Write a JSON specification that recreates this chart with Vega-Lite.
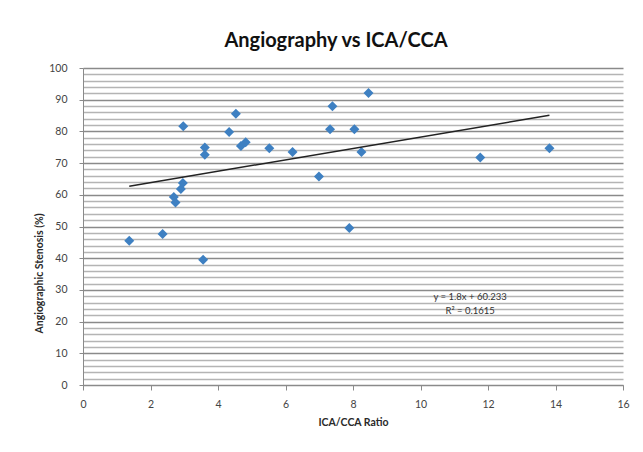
{
  "$schema": "https://vega.github.io/schema/vega-lite/v6.json",
  "width": 540,
  "height": 317,
  "autosize": {"type": "none"},
  "padding": {"left": 83, "top": 68, "right": 20, "bottom": 67},
  "background": "white",
  "config": {"font": "Lato", "view": {"stroke": null}},
  "title": {
    "text": "Angiography vs ICA/CCA",
    "fontSize": 20,
    "font": "Lato",
    "fontWeight": "bold",
    "color": "#111111",
    "anchor": "middle",
    "dx": -17,
    "dy": 22,
    "baseline": "alphabetic",
    "offset": 18
  },
  "encoding": {
    "x": {
      "field": "ratio",
      "type": "quantitative",
      "scale": {"domain": [0, 16], "nice": false},
      "axis": {
        "values": [0, 2, 4, 6, 8, 10, 12, 14, 16],
        "title": "ICA/CCA Ratio",
        "titleFontSize": 10.5,
        "titleFontWeight": "bold",
        "titleColor": "#2a2a2a",
        "titlePadding": 8,
        "labelFontSize": 10.5,
        "labelColor": "#444444",
        "labelPadding": 9,
        "labelFlush": false,
        "tickSize": 5,
        "tickColor": "#8a8a8a",
        "domainColor": "#8a8a8a",
        "grid": false
      }
    },
    "y": {
      "field": "stenosis",
      "type": "quantitative",
      "scale": {"domain": [0, 100], "nice": false},
      "axis": {
        "values": [0, 2, 4, 6, 8, 10, 12, 14, 16, 18, 20, 22, 24, 26, 28, 30, 32, 34, 36, 38, 40, 42, 44, 46, 48, 50, 52, 54, 56, 58, 60, 62, 64, 66, 68, 70, 72, 74, 76, 78, 80, 82, 84, 86, 88, 90, 92, 94, 96, 98, 100],
        "labelExpr": "datum.value % 10 === 0 ? datum.label : ''",
        "title": "Angiographic Stenosis (%)",
        "titleFontSize": 10.5,
        "titleFontWeight": "bold",
        "titleColor": "#2a2a2a",
        "titleX": -44,
        "titleY": 205,
        "titleAlign": "center",
        "titleBaseline": "middle",
        "labelFontSize": 10.5,
        "labelColor": "#444444",
        "labelPadding": 12,
        "tickSize": 4,
        "tickColor": "#8a8a8a",
        "tickOpacity": {"condition": {"test": "datum.value % 10 === 0", "value": 1}, "value": 0},
        "domainColor": "#8a8a8a",
        "grid": true,
        "gridColor": {"condition": {"test": "datum.value % 10 === 0", "value": "#8a8a8a"}, "value": "#b4b4b4"},
        "gridWidth": {"condition": {"test": "datum.value % 10 === 0", "value": 1.7}, "value": 1.5}
      }
    }
  },
  "layer": [
    {
      "data": {
        "values": [
          {"ratio": 1.37, "stenosis": 45.5},
          {"ratio": 2.36, "stenosis": 47.6},
          {"ratio": 3.56, "stenosis": 39.5},
          {"ratio": 2.69, "stenosis": 59.3},
          {"ratio": 2.74, "stenosis": 57.6},
          {"ratio": 2.9, "stenosis": 61.8},
          {"ratio": 2.96, "stenosis": 63.7},
          {"ratio": 2.97, "stenosis": 81.6},
          {"ratio": 3.61, "stenosis": 74.9},
          {"ratio": 3.61, "stenosis": 72.6},
          {"ratio": 4.33, "stenosis": 79.8},
          {"ratio": 4.53, "stenosis": 85.6},
          {"ratio": 4.68, "stenosis": 75.4},
          {"ratio": 4.82, "stenosis": 76.6},
          {"ratio": 5.52, "stenosis": 74.7},
          {"ratio": 6.21, "stenosis": 73.5},
          {"ratio": 6.99, "stenosis": 65.8},
          {"ratio": 7.32, "stenosis": 80.7},
          {"ratio": 7.39, "stenosis": 87.9},
          {"ratio": 7.89, "stenosis": 49.5},
          {"ratio": 8.04, "stenosis": 80.7},
          {"ratio": 8.25, "stenosis": 73.5},
          {"ratio": 8.46, "stenosis": 92.1},
          {"ratio": 11.77, "stenosis": 71.8},
          {"ratio": 13.82, "stenosis": 74.7}
        ]
      },
      "mark": {"type": "point", "shape": "diamond", "filled": true, "size": 100, "color": "#3E80C2", "opacity": 1}
    },
    {
      "data": {"values": [{"ratio": 1.37, "stenosis": 62.7}, {"ratio": 13.82, "stenosis": 85.1}]},
      "mark": {"type": "line", "color": "#222222", "strokeWidth": 1.5}
    },
    {
      "data": {
        "values": [
          {"ratio": 11.47, "stenosis": 27.8, "label": "y = 1.8x + 60.233"},
          {"ratio": 11.47, "stenosis": 23.4, "label": "R² = 0.1615"}
        ]
      },
      "mark": {"type": "text", "fontSize": 9.5, "color": "#333333"},
      "encoding": {
        "text": {"field": "label", "type": "nominal"}
      }
    }
  ]
}
